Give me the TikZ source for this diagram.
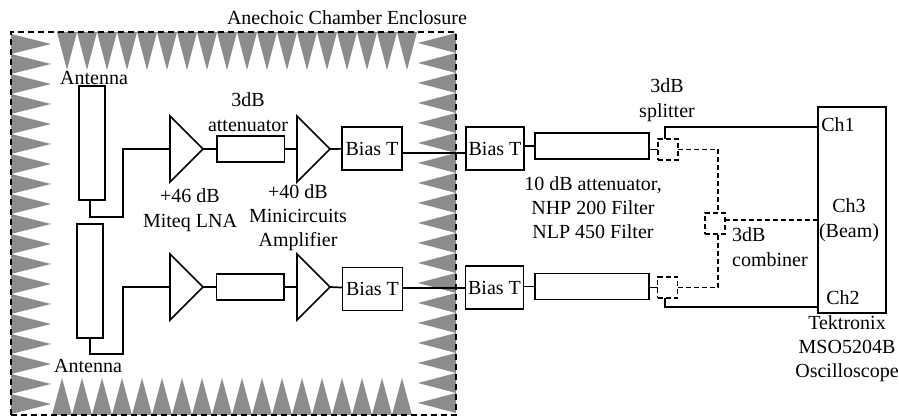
\documentclass[tikz,border=0pt]{standalone}
\usepackage{fontspec}
\setmainfont{Liberation Serif}
\usepackage{xcolor}
\usetikzlibrary{calc,positioning,shapes.geometric}
\definecolor{absorber}{HTML}{8C8C8C}
\begin{document}
\begin{tikzpicture}[x=0.5pt,y=-0.5pt,line width=0.85pt]
      \tikzstyle{antennabox}=[draw,minimum width=13.25pt,minimum height=57pt,inner sep=0pt,outer sep=0pt]
      \tikzstyle{ampbox}=[draw,isosceles triangle,isosceles triangle stretches,minimum width=33pt,minimum height=16.5pt,inner sep=0pt,outer sep=0pt,anchor=lower side]
      \tikzstyle{attbox}=[draw,minimum width=33.75pt,minimum height=13pt,inner sep=0pt,outer sep=0pt]
      \tikzstyle{biasbox}=[draw,minimum width=30pt,minimum height=21.5pt,inner sep=0pt,outer sep=0pt]
      \tikzstyle{filtbox}=[draw,minimum width=57pt,minimum height=13pt,inner sep=0pt,outer sep=0pt]
      \tikzstyle{hybridbox}=[draw,dashed,dash pattern=on 2.5pt off 1.5pt,minimum width=10pt,minimum height=10.5pt,inner sep=0pt,outer sep=0pt]
      \tikzstyle{dashwire}=[dash pattern=on 2.5pt off 1.5pt]
      \tikzstyle{lbl}=[inner sep=0pt,align=center]
      \useasboundingbox (0,0) rectangle (899,416);
      % absorber wedges
      \foreach \i in {0,...,17} {
        \fill[absorber] ({57+20*\i},32) -- ({67+20*\i},70) -- ({77+20*\i},32) -- cycle;
        \fill[absorber] ({52+20*\i},415) -- ({62+20*\i},378) -- ({72+20*\i},415) -- cycle;
      }
      \foreach \i in {0,...,18} {
        \fill[absorber] (11,{34+20*\i}) -- (51,{44+20*\i}) -- (11,{54+20*\i}) -- cycle;
        \fill[absorber] (456,{33+20*\i}) -- (418,{43+20*\i}) -- (456,{53+20*\i}) -- cycle;
      }
      \node[draw,dashed,dash pattern=on 3pt off 2pt,minimum width=222.5pt,minimum height=191.5pt,inner sep=0pt] (chamber) at (233.5,223.5) {};
      \node[lbl] (chamberlabel) at (347,18) {Anechoic Chamber Enclosure};
      % upper channel
      \node[antennabox] (antup) at (92,143) {};
      \node[ampbox] (lnaup) at (170,149) {};
      \node[attbox] (attup) at (250.75,149) {};
      \node[ampbox] (ampup) at (297,149) {};
      \node[biasbox] (biasup) at (372,148.5) {Bias T};
      \node[biasbox,minimum width=29pt] (biasoutup) at (495,148.5) {Bias T};
      \node[filtbox] (filtup) at (592,146) {};
      \node[hybridbox] (splitup) at (668,149.5) {};
      % lower channel
      \node[antennabox] (antdn) at (90,281) {};
      \node[ampbox] (lnadn) at (170,287) {};
      \node[attbox] (attdn) at (250.25,286.75) {};
      \node[ampbox] (ampdn) at (297,287) {};
      \node[biasbox] (biasdn) at (372.5,289) {Bias T};
      \node[biasbox,minimum width=29pt] (biasoutdn) at (494.5,287.5) {Bias T};
      \node[filtbox] (filtdn) at (592,286.5) {};
      \node[hybridbox] (splitdn) at (667.5,287.5) {};
      % combiner and scope
      \node[hybridbox] (combiner) at (715,223.5) {};
      \node[draw,minimum width=34pt,minimum height=103pt,inner sep=0pt,outer sep=0pt] (scope) at (852,210) {};
      \coordinate (bendup) at (123,217);
      \coordinate (benddn) at (123,354);
      \coordinate (wireup) at (430,153);
      \coordinate (wiredn) at (430,288);
      \coordinate (stubup) at (90,200);
      \coordinate (stubdn) at (90,338);
      \coordinate (tapup) at (665,139);
      \coordinate (tapdn) at (665,298);
      \coordinate (chone) at (818,127);
      \coordinate (chtwo) at (818,307);
      \coordinate (chthree) at (818,220);
      \coordinate (combleg) at (718,213);
      \coordinate (comblow) at (718,234);
      % wires
      \draw (stubup) |- (bendup) |- (lnaup.lower side);
      \draw (stubdn) |- (benddn) |- (lnadn.lower side);
      \draw (lnaup.apex) -- (attup);
      \draw (attup) -- (ampup.lower side);
      \draw (ampup.apex) -- (biasup);
      \draw (lnadn.apex) -- (attdn);
      \draw (attdn) -- (ampdn.lower side);
      \draw (ampdn.apex) -- (biasdn);
      \draw (biasup.east |- wireup) -- (biasoutup.west |- wireup);
      \draw (biasdn.east |- wiredn) -- (biasoutdn.west |- wiredn);
      \draw (biasoutup.east |- filtup) -- (filtup);
      \draw (biasoutdn.east |- filtdn) -- (filtdn);
      \draw (filtup.east |- splitup) -- (splitup);
      \draw (filtdn.east |- splitdn) -- (splitdn);
      \draw (tapup) |- (chone);
      \draw (tapdn) |- (chtwo);
      \draw[dashwire] (splitup) -| (combleg);
      \draw[dashwire] (splitdn) -| (comblow);
      \draw[dashwire] (combiner.east |- chthree) -- (chthree);
      % labels
      \node[lbl] (antlabelup) at (94,78) {Antenna};
      \node[lbl] (antlabeldn) at (88,366) {Antenna};
      \node[lbl] (attlabel) at (248,112.5) {3dB\\[0.5pt]attenuator};
      \node[lbl] (lnalabel) at (190,210) {+46 dB\\[0.5pt]Miteq LNA};
      \node[lbl] (amplabel) at (298,218) {+40 dB\\Minicircuits\\Amplifier};
      \node[lbl] (filtlabel) at (593,208) {10 dB attenuator,\\NHP 200 Filter\\NLP 450 Filter};
      \node[lbl] (splitlabel) at (667,100.5) {3dB\\[0.5pt]splitter};
      \node[lbl,align=left] (comblabel) at (770,247.5) {3dB\\[0.5pt]combiner};
      \node[lbl] (chonelabel) at (838,125) {Ch1};
      \node[lbl] (chtwolabel) at (843,298) {Ch2};
      \node[lbl] (chthreelabel) at (849,220.5) {Ch3\\[0.5pt](Beam)};
      \node[lbl] (scopelabel) at (847,349) {Tektronix\\MSO5204B\\Oscilloscope};
    \end{tikzpicture}
\end{document}
